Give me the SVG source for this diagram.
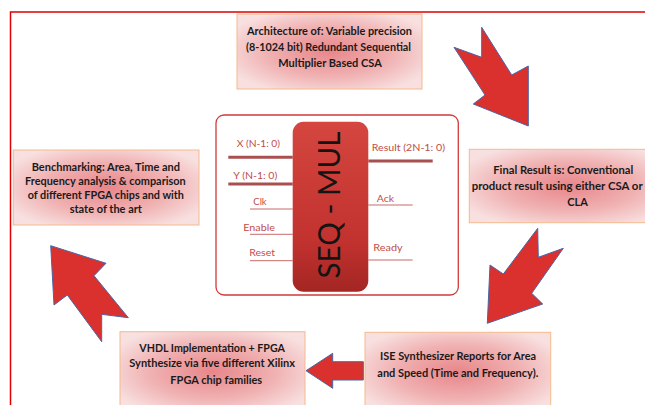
<svg xmlns="http://www.w3.org/2000/svg" width="645" height="405" viewBox="0 0 645 405">
<defs>
<radialGradient id="boxg" cx="50%" cy="50%" r="60%">
<stop offset="0%" stop-color="#e8868a"/>
<stop offset="55%" stop-color="#f0b0b1"/>
<stop offset="100%" stop-color="#f8e0e0"/>
</radialGradient>
<linearGradient id="blockg" x1="0" y1="0" x2="0" y2="1">
<stop offset="0%" stop-color="#d4463f"/>
<stop offset="70%" stop-color="#c2322f"/>
<stop offset="100%" stop-color="#a32623"/>
</linearGradient>
</defs>
<style>
.frame{fill:none;stroke:#e00000;stroke-width:1.5}
.box{fill:url(#boxg);stroke:#f6b98c;stroke-width:1}
.bt{font-family:Lato,"Liberation Sans",sans-serif;font-weight:700;font-size:11px;fill:#1a1a1a}
.c{text-anchor:middle}
.arrow{fill:#da302e;stroke:#4a66a6;stroke-width:1;stroke-linejoin:miter}
.pin{font-family:Lato,"Liberation Sans",sans-serif;font-size:10px;fill:#c24d4a}
.thick{stroke:#a85050;stroke-width:3}
.thin{stroke:#c86a68;stroke-width:1}
</style>
<rect width="645" height="405" fill="#ffffff"/>
<path class="frame" d="M10.5,405 V12 H645"/>

<g id="connectors">
<polygon class="arrow" points="481.7,27.3 511.7,75 528.3,66 528.3,126 473.3,104 485,95 454,47.3 481.7,57.3"/>
<polygon class="arrow" points="537.7,228.3 538.3,257.3 563.3,248.3 531.7,293.3 542.7,304 487.3,323.3 490,265 503.3,274"/>
<polygon class="arrow" points="306,370.7 332.7,353.3 332.7,361.7 363.3,361.7 363.3,380 332.7,380 332.7,388.3"/>
<polygon class="arrow" points="50.7,245.7 106,263.3 94,275.7 128.3,317.7 101.7,314.3 101.7,341.7 67.3,295 54,305"/>
</g>

<g id="node-architecture">
<rect class="box" x="237" y="14" width="185" height="75"/>
<text class="bt" x="247" y="35" textLength="165" lengthAdjust="spacingAndGlyphs">Architecture of: Variable precision</text>
<text class="bt" x="246" y="51" textLength="165" lengthAdjust="spacingAndGlyphs">(8-1024 bit) Redundant Sequential</text>
<text class="bt c" x="330" y="67">Multiplier Based CSA</text>
</g>

<g id="node-final-result">
<rect class="box" x="469.3" y="149.3" width="200" height="73.4"/>
<text class="bt" x="493.3" y="173.5" textLength="140" lengthAdjust="spacingAndGlyphs">Final Result is: Conventional</text>
<text class="bt" x="471.7" y="189.5" textLength="171" lengthAdjust="spacingAndGlyphs">product result using either CSA or</text>
<text class="bt c" x="577.5" y="205.5">CLA</text>
</g>

<g id="node-ise">
<rect class="box" x="365" y="332.3" width="185.7" height="80"/>
<text class="bt" x="380" y="359.5" textLength="156" lengthAdjust="spacingAndGlyphs">ISE Synthesizer Reports for Area</text>
<text class="bt" x="377.3" y="376.5" textLength="161" lengthAdjust="spacingAndGlyphs">and Speed (Time and Frequency).</text>
</g>

<g id="node-vhdl">
<rect class="box" x="120" y="331.7" width="185" height="80"/>
<text class="bt" x="139.3" y="351.5" textLength="145.7" lengthAdjust="spacingAndGlyphs">VHDL Implementation + FPGA</text>
<text class="bt" x="129.3" y="367" textLength="165.7" lengthAdjust="spacingAndGlyphs">Synthesize via five different Xilinx</text>
<text class="bt c" x="216.3" y="383.5">FPGA chip families</text>
</g>

<g id="node-benchmarking">
<rect class="box" x="13.3" y="150" width="185.7" height="75"/>
<text class="bt" x="31.7" y="170.5" textLength="148.3" lengthAdjust="spacingAndGlyphs">Benchmarking: Area, Time and</text>
<text class="bt" x="25" y="184.5" textLength="160.7" lengthAdjust="spacingAndGlyphs">Frequency analysis &amp; comparison</text>
<text class="bt" x="27.7" y="198.5" textLength="156.3" lengthAdjust="spacingAndGlyphs">of different FPGA chips and with</text>
<text class="bt c" x="105.8" y="213">state of the art</text>
</g>

<g id="node-seq-mul">
<rect x="216" y="115" width="242.3" height="180" rx="8" fill="#ffffff" stroke="#d23a3a" stroke-width="1.3"/>
<line class="thick" x1="228.3" y1="157.3" x2="292.7" y2="157.3"/>
<line class="thick" x1="228.3" y1="184" x2="292.7" y2="184"/>
<line class="thin" x1="250" y1="209" x2="292.7" y2="209"/>
<line class="thin" x1="250" y1="234.3" x2="292.7" y2="234.3"/>
<line class="thin" x1="250" y1="260.7" x2="292.7" y2="260.7"/>
<line class="thick" x1="368.3" y1="161" x2="432.7" y2="161"/>
<line class="thin" x1="368.3" y1="205" x2="412.7" y2="205"/>
<line class="thin" x1="368.3" y1="260" x2="412.7" y2="260"/>
<rect x="292.7" y="121.7" width="75.6" height="170" rx="11" fill="url(#blockg)"/>
<text transform="translate(339.5,205) rotate(-90)" x="0" y="0" text-anchor="middle" font-family="Lato,'Liberation Sans',sans-serif" font-size="30" fill="#141414" textLength="147" lengthAdjust="spacingAndGlyphs">SEQ - MUL</text>
<text class="pin" x="236.7" y="147" textLength="43.3" lengthAdjust="spacingAndGlyphs">X (N-1: 0)</text>
<text class="pin" x="233.3" y="179" textLength="44" lengthAdjust="spacingAndGlyphs">Y (N-1: 0)</text>
<text class="pin" x="253.3" y="205" textLength="13.4" lengthAdjust="spacingAndGlyphs">Clk</text>
<text class="pin" x="243.3" y="230.5" textLength="31.7" lengthAdjust="spacingAndGlyphs">Enable</text>
<text class="pin" x="249.3" y="255.5" textLength="25.7" lengthAdjust="spacingAndGlyphs">Reset</text>
<text class="pin" x="371.7" y="150.5" textLength="73.3" lengthAdjust="spacingAndGlyphs">Result (2N-1: 0)</text>
<text class="pin" x="376.7" y="202" textLength="17.3" lengthAdjust="spacingAndGlyphs">Ack</text>
<text class="pin" x="373.3" y="250.5" textLength="29.4" lengthAdjust="spacingAndGlyphs">Ready</text>
</g>
</svg>
